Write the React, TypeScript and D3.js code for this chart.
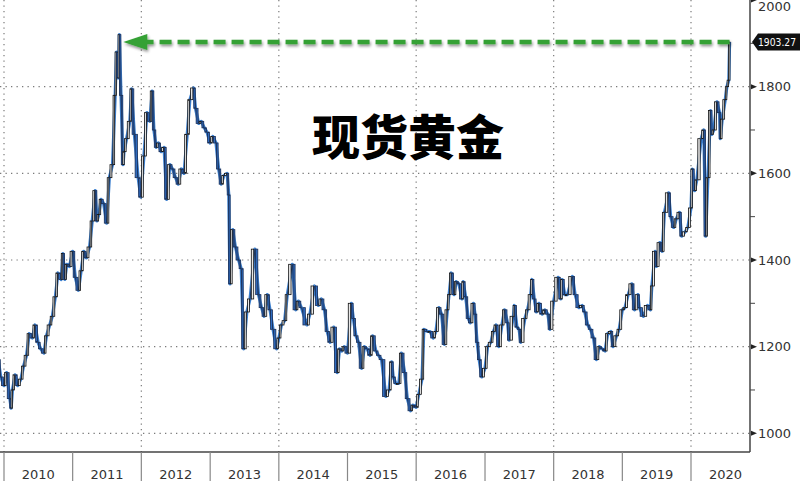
import React from "react";
import * as d3 from "d3";

const dates: string[] = [
  "2009-12-01","2009-12-15","2010-01-01","2010-01-15","2010-02-01","2010-02-08","2010-02-15","2010-03-01","2010-03-15","2010-04-01","2010-04-15",
  "2010-05-01","2010-05-15","2010-06-01","2010-06-15","2010-07-01","2010-07-15","2010-08-01","2010-08-15","2010-09-01","2010-09-15",
  "2010-10-01","2010-10-15","2010-11-01","2010-11-10","2010-11-20","2010-12-01","2010-12-15","2011-01-01","2011-01-15","2011-02-01",
  "2011-02-15","2011-03-01","2011-03-15","2011-04-01","2011-04-15","2011-05-01","2011-05-10","2011-05-20","2011-06-01","2011-06-15",
  "2011-07-01","2011-07-15","2011-08-01","2011-08-15","2011-08-22","2011-09-01","2011-09-06","2011-09-15","2011-09-26","2011-10-01",
  "2011-10-15","2011-11-01","2011-11-10","2011-11-25","2011-12-15","2011-12-29","2012-01-15","2012-01-31","2012-02-15","2012-02-28",
  "2012-03-08","2012-03-20","2012-04-01","2012-04-15","2012-05-01","2012-05-15","2012-06-01","2012-06-15","2012-07-01","2012-07-15",
  "2012-08-01","2012-08-15","2012-09-01","2012-09-15","2012-10-05","2012-10-15","2012-11-01","2012-11-15","2012-12-01","2012-12-15",
  "2013-01-01","2013-01-15","2013-02-01","2013-02-15","2013-03-01","2013-03-15","2013-04-01","2013-04-10","2013-04-16","2013-05-01",
  "2013-05-15","2013-06-01","2013-06-15","2013-06-28","2013-07-15","2013-08-01","2013-08-27","2013-09-15","2013-10-01","2013-10-15",
  "2013-11-01","2013-11-15","2013-12-01","2013-12-20","2014-01-01","2014-01-15","2014-02-01","2014-02-15","2014-03-14","2014-04-01",
  "2014-04-15","2014-05-01","2014-05-30","2014-06-15","2014-07-10","2014-07-30","2014-08-15","2014-09-01","2014-09-15","2014-10-01",
  "2014-10-20","2014-11-07","2014-11-20","2014-12-01","2014-12-15","2015-01-01","2015-01-22","2015-02-01","2015-02-15","2015-03-01",
  "2015-03-17","2015-04-01","2015-04-15","2015-05-01","2015-05-15","2015-06-01","2015-06-15","2015-07-01","2015-07-24","2015-08-10",
  "2015-08-24","2015-09-01","2015-09-15","2015-10-01","2015-10-15","2015-11-01","2015-11-15","2015-12-03","2015-12-15","2016-01-01",
  "2016-01-15","2016-02-01","2016-02-11","2016-03-01","2016-03-15","2016-04-01","2016-04-15","2016-05-01","2016-05-15","2016-05-30",
  "2016-06-15","2016-06-24","2016-07-06","2016-07-20","2016-08-01","2016-08-15","2016-09-01","2016-09-07","2016-09-20","2016-10-04",
  "2016-10-15","2016-11-01","2016-11-09","2016-11-20","2016-12-01","2016-12-15","2017-01-01","2017-01-15","2017-02-01","2017-02-15",
  "2017-03-01","2017-03-15","2017-04-01","2017-04-15","2017-05-01","2017-05-09","2017-06-01","2017-06-06","2017-06-20","2017-07-01",
  "2017-07-10","2017-08-01","2017-08-15","2017-09-01","2017-09-08","2017-09-20","2017-10-01","2017-10-15","2017-11-01","2017-11-15",
  "2017-12-01","2017-12-12","2018-01-01","2018-01-25","2018-02-08","2018-02-15","2018-03-01","2018-03-15","2018-04-11","2018-04-25",
  "2018-05-15","2018-06-01","2018-06-15","2018-07-01","2018-07-15","2018-08-01","2018-08-16","2018-09-01","2018-09-15","2018-10-01",
  "2018-10-15","2018-11-01","2018-11-13","2018-12-01","2018-12-15","2019-01-01","2019-01-15","2019-02-01","2019-02-20","2019-03-07",
  "2019-03-25","2019-04-01","2019-04-23","2019-05-15","2019-05-30","2019-06-07","2019-06-25","2019-07-01","2019-07-19","2019-08-01",
  "2019-08-13","2019-09-04","2019-09-15","2019-10-01","2019-10-15","2019-11-01","2019-11-12","2019-12-01","2019-12-15","2020-01-01",
  "2020-01-08","2020-01-20","2020-02-01","2020-02-24","2020-03-09","2020-03-19","2020-03-31","2020-04-14","2020-04-21","2020-05-01",
  "2020-05-18","2020-06-01","2020-06-05","2020-06-15","2020-07-01","2020-07-10","2020-07-20","2020-07-24"
];

const prices: number[] = [
  1170,1130,1110,1140,1080,1058,1100,1135,1110,1125,1155,
  1180,1230,1220,1250,1210,1195,1185,1225,1250,1270,
  1315,1370,1355,1415,1355,1390,1385,1420,1360,1330,
  1375,1420,1405,1430,1490,1560,1490,1505,1540,1530,
  1485,1590,1620,1780,1880,1820,1920,1780,1620,1650,
  1680,1720,1795,1690,1590,1545,1640,1740,1720,1790,
  1700,1660,1670,1650,1660,1540,1620,1610,1590,1575,
  1610,1600,1690,1770,1797,1750,1715,1720,1705,1695,
  1670,1685,1670,1610,1575,1595,1600,1550,1345,1470,
  1430,1400,1380,1195,1280,1310,1425,1320,1290,1270,
  1320,1285,1240,1195,1220,1250,1260,1320,1390,1285,
  1305,1290,1250,1275,1340,1295,1310,1285,1235,1210,
  1245,1140,1195,1190,1200,1185,1300,1265,1225,1210,
  1150,1200,1195,1180,1225,1190,1180,1170,1085,1100,
  1165,1130,1115,1115,1185,1140,1080,1052,1065,1060,
  1090,1125,1240,1235,1235,1220,1235,1290,1275,1205,
  1285,1320,1370,1320,1350,1345,1310,1350,1315,1265,
  1255,1300,1275,1210,1170,1130,1150,1200,1210,1235,
  1250,1200,1250,1285,1255,1215,1270,1295,1245,1240,
  1210,1265,1285,1320,1355,1310,1280,1300,1275,1285,
  1275,1240,1305,1360,1310,1355,1320,1320,1362,1320,
  1290,1295,1280,1250,1240,1220,1170,1200,1195,1190,
  1230,1235,1200,1225,1240,1285,1290,1320,1345,1285,
  1320,1290,1270,1295,1285,1340,1420,1385,1440,1420,
  1510,1555,1500,1475,1495,1510,1455,1465,1475,1520,
  1610,1560,1585,1680,1700,1455,1590,1745,1690,1700,
  1765,1740,1680,1725,1770,1800,1815,1903
];

const yTicks: number[] = [1000, 1200, 1400, 1600, 1800, 2000];
const yMinor: number[] = [1100, 1300, 1500, 1700, 1900];
const years: number[] = [2010, 2011, 2012, 2013, 2014, 2015, 2016, 2017, 2018, 2019, 2020];
const gridYears: number[] = [2010, 2012, 2014, 2016, 2018, 2020];
const title = "现货黄金";
const lastLabel = "1903.27";

export default function App() {
  const W = 800, H = 481;
  const axisX = 750, axisY = 452;
  const parse = d3.timeParse("%Y-%m-%d");
  const data = dates.map((d, i) => ({ date: parse(d) as Date, v: prices[i] }));
  const x = d3.scaleTime()
    .domain([new Date(2010, 0, 1), new Date(2020, 0, 1)])
    .range([4, 691]);
  const y = d3.scaleLinear().domain([1000, 2000]).range([433.3, 0]);
  const line = d3.line<{ date: Date; v: number }>()
    .x((d) => x(d.date))
    .y((d) => y(d.v))
    .curve(d3.curveLinear);

  const last = data[data.length - 1];
  const lastY = y(1903.27);
  const peakX = x(parse("2011-09-06") as Date);

  const candles = data.slice(1).map((d, i) => {
    const prev = data[i];
    const x0 = x(prev.date), x1 = x(d.date);
    const up = d.v >= prev.v;
    const top = y(Math.max(d.v, prev.v));
    const bot = y(Math.min(d.v, prev.v));
    const w = Math.max(1.5, Math.min(2.4, (x1 - x0) * 0.6));
    return { cx: x1 - (x1 - x0) / 2, top, bot, up, w };
  });

  return (
    <svg width={W} height={H} style={{ position: "absolute", left: 0, top: 0, background: "#fff" }}
      fontFamily="'Segoe UI', 'DejaVu Sans', 'Noto Sans', sans-serif">
      <defs>
        <filter id="shadow" x="-5%" y="-100%" width="110%" height="300%">
          <feGaussianBlur in="SourceAlpha" stdDeviation="1.5" />
          <feOffset dx="1" dy="2" result="ob" />
          <feComponentTransfer><feFuncA type="linear" slope="0.45" /></feComponentTransfer>
          <feMerge><feMergeNode /><feMergeNode in="SourceGraphic" /></feMerge>
        </filter>
        <clipPath id="plot"><rect x={0} y={0} width={axisX} height={axisY} /></clipPath>
      </defs>
      <rect x={0} y={0} width={W} height={H} fill="#fff" />
      {yTicks.filter((t) => t < 2000).map((t) => (
        <line key={"h" + t} x1={0} x2={axisX} y1={y(t)} y2={y(t)} stroke="#7a7a7a" strokeWidth={1.2} strokeDasharray="1.3,4.2" />
      ))}
      {gridYears.map((yr) => (
        <line key={"v" + yr} x1={x(new Date(yr, 0, 1))} x2={x(new Date(yr, 0, 1))} y1={0} y2={axisY} stroke="#7a7a7a" strokeWidth={1.2} strokeDasharray="1.3,4.2" />
      ))}
      <g clipPath="url(#plot)">
        <path d={line(data) || ""} fill="none" stroke="#3d80cf" strokeWidth={3.2} strokeLinejoin="round" />
        <path d={line(data) || ""} fill="none" stroke="#1f3a66" strokeWidth={1} strokeLinejoin="round" />
        {candles.map((c, i) => (
          <rect key={i} x={c.cx - c.w / 2} y={c.top} width={c.w} height={Math.max(1, c.bot - c.top)}
            fill={c.up ? "#e8e8e8" : "#2f6cc0"} stroke={c.up ? "#111" : "#1b2f55"} strokeWidth={0.8} />
        ))}
      </g>
      <g filter="url(#shadow)">
        <line x1={x(last.date)} x2={peakX + 22} y1={lastY} y2={lastY} stroke="#35a135" strokeWidth={4.5} strokeDasharray="12,6" />
        <path d={`M${peakX + 4},${lastY} L${peakX + 28},${lastY - 8} L${peakX + 28},${lastY + 8} Z`} fill="#35a135" />
      </g>
      <text x={408} y={155} textAnchor="middle" fontSize={48} fontWeight={900}
        fontFamily="'Noto Sans CJK SC', sans-serif" fill="#000">{title}</text>
      <line x1={axisX} x2={axisX} y1={0} y2={axisY} stroke="#444" strokeWidth={1.5} />
      <line x1={0} x2={axisX} y1={axisY} y2={axisY} stroke="#444" strokeWidth={1.5} />
      {yTicks.map((t) => (
        <g key={"t" + t}>
          <path d={`M${axisX + 1},${y(t) - 2.5} L${axisX + 7},${y(t)} L${axisX + 1},${y(t) + 2.5} Z`} fill="#222" />
          <text x={axisX + 8} y={Math.max(y(t), 6)} dy="0.35em" fontSize={13} fill="#333">{t}</text>
        </g>
      ))}
      {yMinor.map((t) => (
        <line key={"m" + t} x1={axisX} x2={axisX + 5} y1={y(t)} y2={y(t)} stroke="#444" strokeWidth={1} />
      ))}
      <path d={`M${axisX + 2},${lastY} L${axisX + 8},${lastY - 8.5} L${W},${lastY - 8.5} L${W},${lastY + 8.5} L${axisX + 8},${lastY + 8.5} Z`} fill="#111" />
      <text x={axisX + 8} y={lastY} dy="0.36em" fontSize={10.5} textLength={38} lengthAdjust="spacingAndGlyphs" fill="#fff">{lastLabel}</text>
      {years.map((yr) => {
        const xs = x(new Date(yr, 0, 1));
        const xe = x(new Date(yr + 1, 0, 1));
        return (
          <g key={"y" + yr}>
            <line x1={xs} x2={xs} y1={axisY} y2={H} stroke="#888" strokeWidth={1.2} />
            <text x={(xs + xe) / 2} y={474} textAnchor="middle" dy="0.35em" fontSize={13} fill="#333">{yr}</text>
          </g>
        );
      })}
    </svg>
  );
}
